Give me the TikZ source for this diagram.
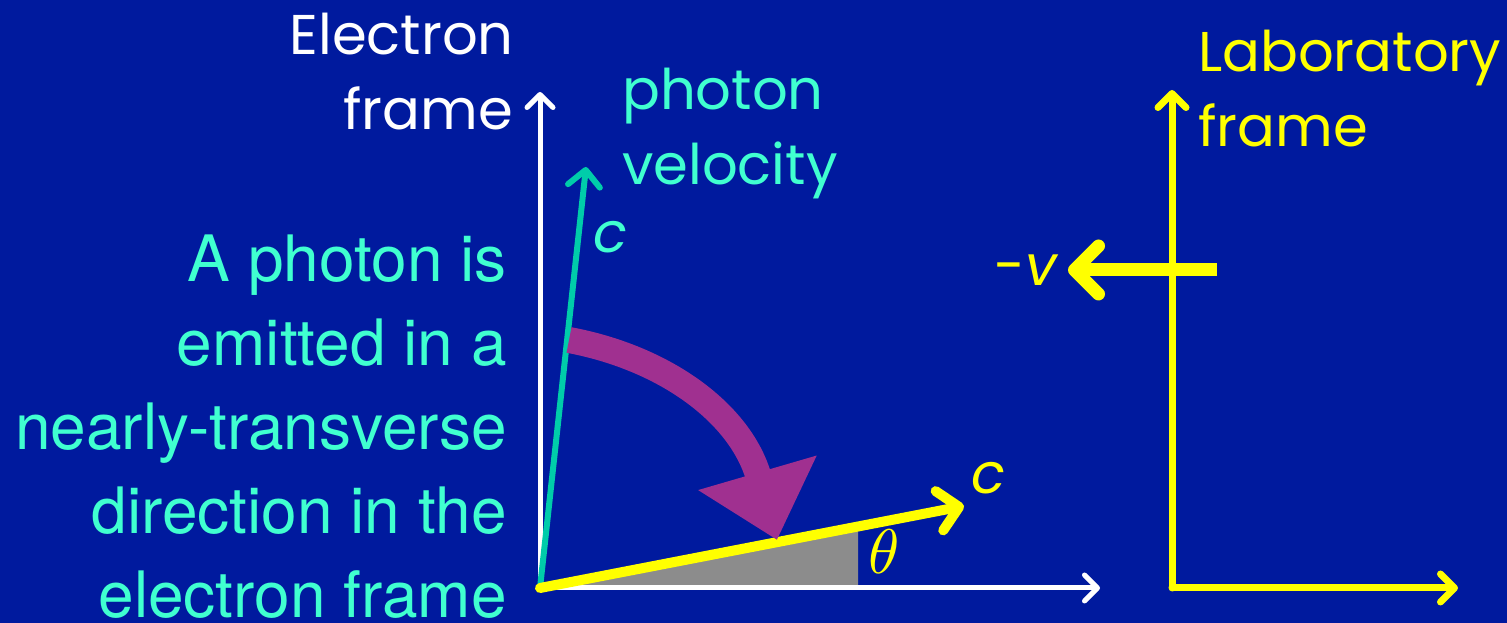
\documentclass[tikz,border=0pt]{standalone}
\usepackage{fontspec}
\setmainfont{TeX Gyre Heros}
\newfontfamily\comicfont{Poppins}
\usetikzlibrary{arrows.meta}
\definecolor{slidebg}{RGB}{0,26,158}
\definecolor{tealarrow}{RGB}{0,204,170}
\definecolor{aquatext}{RGB}{64,255,208}
\definecolor{labyellow}{RGB}{255,255,0}
\definecolor{turnmagenta}{RGB}{160,48,144}
\definecolor{shadegray}{RGB}{140,140,140}
\begin{document}
\begin{tikzpicture}[
x=1pt,y=1pt,
every node/.style={inner sep=0pt},
bigtext/.style={font=\fontsize{64}{68}\selectfont},
comictext/.style={font=\comicfont\fontsize{56}{60}\selectfont},
comicslant/.style={font=\comicfont\itshape\fontsize{56}{60}\selectfont},
barb/.style={-{Straight Barb[round,length=#1,width=2*#1]}, line cap=round}
]

\fill[slidebg] (0,0) rectangle (1507,623);
\useasboundingbox (0,0) rectangle (1507,623);

% electron frame
\coordinate (O) at (540,35);
\coordinate (Ey) at (540,531);
\coordinate (Ex) at (1100,35);
\coordinate (Ph) at (586,456);
\coordinate (Pl) at (964,117);
\coordinate (Gb) at (858,35);
\coordinate (Gt) at (858,93);

\fill[shadegray] (O) -- (Gb) -- (Gt) -- cycle;
\draw[white, line width=5pt, barb=13pt] (O) -- (Ey);
\draw[white, line width=5pt, barb=13pt] (O) -- (Ex);
\draw[tealarrow, line width=6pt, barb=16pt] (O) -- (Ph);
\draw[labyellow, line width=10pt, barb=20pt] (O) -- (Pl);

\coordinate (Ms) at (569,283);
\coordinate (Mt) at (777,83);
\draw[turnmagenta, line width=26pt,
-{Triangle[length=70pt,width=119pt]}]
(Ms) .. controls (665,265) and (740,210) .. (Mt);

\node[white, comictext, anchor=base east] (Et) at (514,568) {Electron};
\node[white, comictext, anchor=base east] (Ef) at (513,493) {frame};
\node[aquatext, comictext, anchor=base west] (Pv1) at (622,513) {photon};
\node[aquatext, comictext, anchor=base west] (Pv2) at (622,438) {velocity};
\node[aquatext, comicslant] (Cph) at (610,386) {c};
\node[labyellow, comicslant] (Cl) at (988,145) {c};
\node[labyellow, scale=6.3] (Th) at (884,71) {$\theta$};

% laboratory frame
\coordinate (L) at (1172,35);
\coordinate (Ly) at (1172,533);
\coordinate (Lx) at (1458,35);
\coordinate (Vs) at (1217,353);
\coordinate (Ve) at (1068,353);

\draw[labyellow, line width=7pt, barb=14pt] (L) -- (Ly);
\draw[labyellow, line width=7pt, barb=14pt] (L) -- (Lx);
\draw[labyellow, line width=13pt, barb=24pt, line cap=butt] (Vs) -- (Ve);

\node[labyellow, comictext] (V) at (1026,353) {-{\itshape v}};
\node[labyellow, comictext, anchor=base west] (Lb1) at (1198,551) {Laboratory};
\node[labyellow, comictext, anchor=base west] (Lb2) at (1198,476) {frame};

% caption
\node[aquatext, bigtext, anchor=base east] (T1) at (507,341) {A photon is};
\node[aquatext, bigtext, anchor=base east] (T2) at (507,257) {emitted in a};
\node[aquatext, bigtext, anchor=base east] (T3) at (507,173) {nearly-transverse};
\node[aquatext, bigtext, anchor=base east] (T4) at (507,89) {direction in the};
\node[aquatext, bigtext, anchor=base east] (T5) at (507,5) {electron frame};

\end{tikzpicture}
\end{document}
